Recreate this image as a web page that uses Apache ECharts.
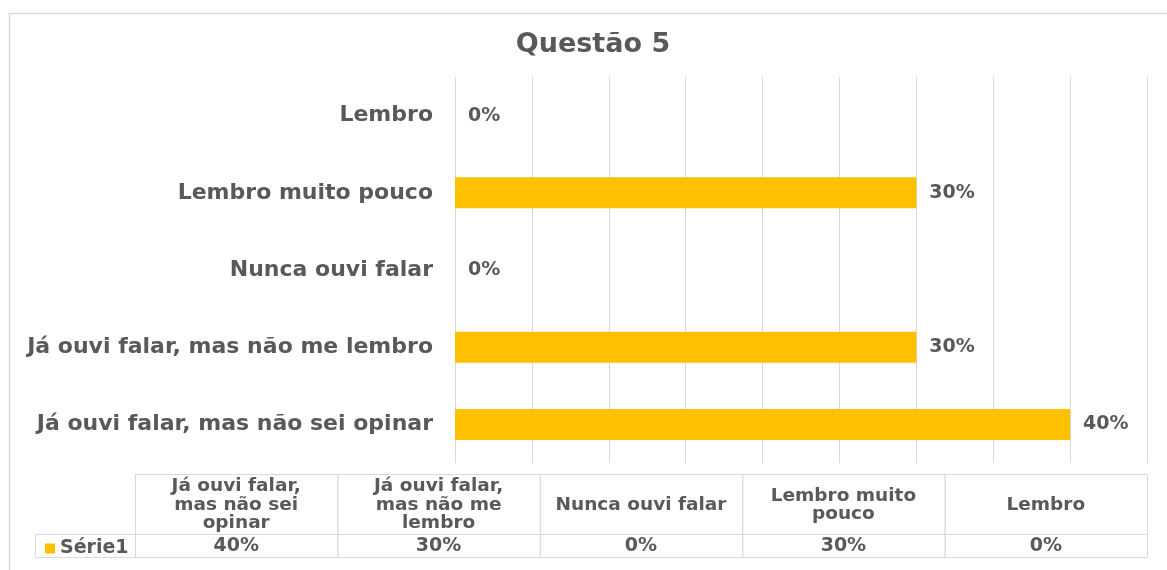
<!DOCTYPE html>
<html>
<head>
<meta charset="utf-8">
<title>Questão 5</title>
<script src="https://cdn.jsdelivr.net/npm/echarts@6/dist/echarts.min.js"></script>
<style>
  html, body { margin: 0; padding: 0; background: #fff; }
  #chart { width: 1167px; height: 570px; }
</style>
</head>
<body>
<div id="chart"></div>
<script>
// categories, bottom to top (same order as the data table columns)
const categories = [
  "Já ouvi falar, mas não sei opinar",
  "Já ouvi falar, mas não me lembro",
  "Nunca ouvi falar",
  "Lembro muito pouco",
  "Lembro",
];
const values = [40, 30, 0, 30, 0];
const seriesName = "Série1";
// header labels of the data table, wrapped like in the cells
const tableHeaders = [
  "Já ouvi falar,\nmas não sei\nopinar",
  "Já ouvi falar,\nmas não me\nlembro",
  "Nunca ouvi falar",
  "Lembro muito\npouco",
  "Lembro",
];

const FONT = "DejaVu Sans";
const TEXT = "#595959";
const LINE = "#D9D9D9";
const BAR = "#FFC000";

// data table layout
const tblLeft = 135;
const tblRight = 1147;
const tblTop = 474;
const headH = 60;
const rowH = 23;
const legendLeft = 35;

function buildTable() {
  const colW = (tblRight - tblLeft) / categories.length;
  const els = [];
  // outer frame of the chart area
  els.push({
    type: "rect",
    shape: { x: 9.5, y: 13.5, width: 1170, height: 570 },
    style: { fill: "none", stroke: LINE, lineWidth: 1.5 },
    silent: true,
  });
  // legend cell in value row
  els.push({
    type: "rect",
    shape: { x: legendLeft + 0.5, y: tblTop + headH + 0.5, width: tblLeft - legendLeft, height: rowH },
    style: { fill: "none", stroke: LINE, lineWidth: 1 },
  });
  tableHeaders.forEach((h, i) => {
    const x = tblLeft + i * colW;
    els.push({
      type: "rect",
      shape: { x: x + 0.5, y: tblTop + 0.5, width: colW, height: headH },
      style: { fill: "none", stroke: LINE, lineWidth: 1 },
    });
    els.push({
      type: "rect",
      shape: { x: x + 0.5, y: tblTop + headH + 0.5, width: colW, height: rowH },
      style: { fill: "none", stroke: LINE, lineWidth: 1 },
    });
    els.push({
      type: "text",
      x: x + colW / 2,
      y: tblTop + headH / 2 + 1,
      style: {
        text: h,
        align: "center",
        verticalAlign: "middle",
        font: "bold 18.5px '" + FONT + "'",
        lineHeight: 18.5,
        fill: TEXT,
      },
    });
    els.push({
      type: "text",
      x: x + colW / 2,
      y: tblTop + headH + rowH / 2 + 1,
      style: {
        text: values[i] + "%",
        align: "center",
        verticalAlign: "middle",
        font: "bold 19px '" + FONT + "'",
        fill: TEXT,
      },
    });
  });
  return els;
}

const chart = echarts.init(document.getElementById("chart"));
const option = {
  animation: false,
  title: {
    text: "Questão 5",
    left: 588,
    textAlign: "center",
    top: 26,
    textStyle: { fontFamily: FONT, fontSize: 27, fontWeight: "bold", color: TEXT },
  },
  legend: {
    data: [seriesName],
    left: 40,
    top: 534,
    icon: "rect",
    itemWidth: 10,
    itemHeight: 10,
    itemGap: 5,
    textStyle: { fontFamily: FONT, fontSize: 19, fontWeight: "bold", color: TEXT },
  },
  grid: {
    left: 455,
    right: 20,
    top: 77,
    bottom: 107,
    containLabel: false,
  },
  xAxis: {
    type: "value",
    min: 0,
    max: 45,
    interval: 5,
    axisLabel: { show: false },
    axisLine: { show: false },
    axisTick: { show: false },
    splitLine: { lineStyle: { color: LINE, width: 1 } },
  },
  yAxis: {
    type: "category",
    data: categories,
    axisLine: { show: false },
    axisTick: { show: false },
    axisLabel: {
      margin: 22,
      fontFamily: FONT,
      fontSize: 22,
      fontWeight: "bold",
      color: TEXT,
    },
  },
  series: [
    {
      name: seriesName,
      type: "bar",
      data: values,
      barWidth: 31,
      itemStyle: { color: BAR },
      label: {
        show: true,
        position: "right",
        distance: 13,
        formatter: "{c}%",
        fontFamily: FONT,
        fontSize: 19,
        fontWeight: "bold",
        color: TEXT,
      },
    },
  ],
  graphic: buildTable(),
};
chart.setOption(option);
</script>
</body>
</html>
